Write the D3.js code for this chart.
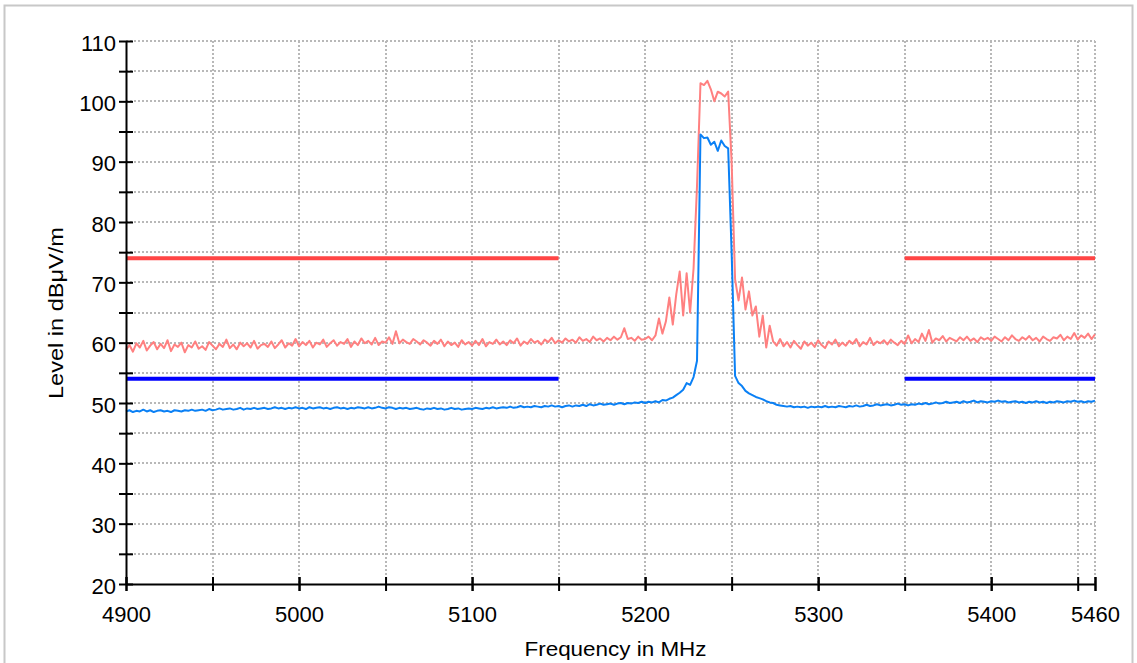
<!DOCTYPE html>
<html>
<head>
<meta charset="utf-8">
<script src="https://cdn.jsdelivr.net/npm/d3@7"></script>
<style>
  html, body { margin: 0; padding: 0; background: #fff; }
  svg { display: block; }
  text { font-family: "Liberation Sans", Arial, sans-serif; fill: #000; }
</style>
</head>
<body>
<svg id="chart" width="1137" height="663"></svg>
<script>
// ---- data ----
const sweepStart = 4900;   // MHz
const sweepStep = 2;       // MHz between samples

// Peak detector trace (pink), dBµV/m, 4900..5460 MHz
const peakValues = [
  58.8, 59.6, 58.5, 59.9, 59.2, 60.3, 58.7, 59.5, 60.1, 58.9,
  59.8, 59.1, 60.4, 58.6, 59.7, 59.3, 60.0, 58.4, 59.6, 59.2,
  60.2, 59.0, 59.4, 58.8, 60.1, 59.5, 58.9, 59.8, 59.3, 60.5,
  59.1, 59.7, 58.9, 60.0, 59.4, 59.9, 59.2, 60.3, 59.0, 59.6,
  59.8, 59.3, 60.2, 59.1, 59.7, 60.4, 59.2, 59.9, 59.5, 60.6,
  59.4, 60.1, 59.6, 60.3, 59.2, 60.0, 59.7, 60.5, 59.3, 59.9,
  60.4, 59.5, 60.1, 59.8, 60.6, 59.3, 60.2, 59.6, 60.7, 59.9,
  60.3, 59.7, 60.8, 59.6, 60.2, 60.0, 60.9, 59.8, 61.9, 59.9,
  60.5, 60.1, 59.8, 60.6, 60.2, 59.7, 60.4, 60.0, 59.5, 60.3,
  59.8, 60.5, 59.4, 60.2, 59.6, 60.0, 59.3, 60.4, 59.7, 60.1,
  59.5, 60.3, 59.6, 60.6, 59.4, 60.1, 59.8, 60.5, 59.7, 60.2,
  59.6, 60.4, 59.9, 60.7, 59.5, 60.2, 59.8, 60.6, 60.0, 60.3,
  59.7, 60.5, 60.1, 60.8, 59.9, 60.4, 60.0, 60.7, 60.2, 60.5,
  60.0, 60.9, 60.3, 60.6, 60.1, 61.0, 60.4, 60.7, 60.2, 60.8,
  60.4, 61.0, 60.5, 60.9, 62.4, 60.6, 60.8, 60.3, 61.0, 60.5,
  60.6, 61.0, 60.4, 61.2, 64.0, 61.5, 63.5, 67.5, 63.0, 68.0,
  71.8, 64.5, 71.5, 65.0, 72.3, 86.0, 103.0, 102.7, 103.4, 102.0,
  100.0, 101.6, 101.3, 100.8, 101.6, 90.0, 70.5, 67.0, 70.8, 65.5,
  68.5, 64.5, 66.0, 61.0, 64.5, 59.2, 62.8, 60.2, 59.5, 60.6,
  59.4, 60.1, 59.2, 60.3, 59.6, 59.0, 60.2, 59.5, 60.0, 59.3,
  60.4, 59.6, 59.1, 60.2, 59.7, 60.5, 59.4, 60.0, 59.5, 60.3,
  59.8, 60.6, 59.4, 60.1, 59.7, 60.8, 59.6, 60.2, 59.9, 60.4,
  59.7, 60.5, 60.0, 59.6, 60.3, 59.8, 61.2, 59.9, 60.6, 60.1,
  61.5, 60.3, 62.1, 60.0, 60.7, 60.4, 61.1, 60.2, 60.8, 60.5,
  60.2, 60.9, 60.4, 61.0, 60.3, 60.7, 60.1, 60.9, 60.5, 60.8,
  60.3, 61.0, 60.6, 60.2, 60.9, 60.4, 61.2, 60.6, 60.3, 60.9,
  60.5, 61.1, 60.4, 60.8, 60.2, 61.0, 60.6, 60.3, 60.9, 60.7,
  61.3, 60.4, 61.0, 60.6, 61.6, 60.5, 61.2, 60.8, 61.5, 60.6,
  61.4
];

// Average detector trace (blue), dBµV/m, 4900..5460 MHz
const avgValues = [
  48.6, 48.8, 48.5, 48.7, 48.6, 48.9, 48.6, 48.8, 48.5, 48.7,
  48.8, 48.6, 48.7, 48.5, 48.8, 48.7, 48.6, 48.8, 48.7, 48.9,
  48.7, 48.8, 48.9, 48.7, 49.0, 48.8, 48.9, 49.1, 48.9, 49.0,
  49.1, 48.9, 49.0, 49.2, 48.9, 49.1, 49.0, 49.2, 49.0, 49.1,
  49.2, 49.0, 49.1, 49.3, 49.1, 49.2, 49.0, 49.2, 49.1, 49.3,
  49.1, 49.2, 49.0, 49.3, 49.1, 49.2, 49.3, 49.1, 49.2, 49.0,
  49.2, 49.3, 49.1, 49.2, 49.0, 49.2, 49.1, 49.3, 49.2, 49.1,
  49.3, 49.1, 49.2, 49.4, 49.2, 49.1, 49.3, 49.2, 49.0, 49.2,
  49.1, 49.2, 49.0, 49.1, 49.2, 49.0, 48.9, 49.1, 49.0, 49.2,
  49.0, 49.1, 48.9, 49.0, 49.2, 49.0, 49.1, 48.9, 49.0, 49.1,
  49.0, 49.2, 49.1, 49.0, 49.2, 49.1, 49.3, 49.1, 49.2, 49.3,
  49.2, 49.4, 49.2, 49.3, 49.5, 49.3, 49.4, 49.3, 49.5, 49.4,
  49.3, 49.5, 49.4, 49.6, 49.4, 49.5, 49.3, 49.5, 49.6, 49.4,
  49.6, 49.5, 49.7, 49.5, 49.8, 49.6, 49.7, 49.9, 49.7, 49.8,
  49.9, 49.7, 49.9, 50.0, 49.8, 50.0, 49.9, 50.1, 50.0, 50.2,
  50.0, 50.2, 50.1, 50.3, 50.1, 50.5, 50.4, 50.7, 50.9, 51.3,
  51.7, 52.2, 53.3, 53.0, 54.3, 57.0, 94.5, 93.9, 94.0, 92.8,
  93.3, 91.8, 93.5, 92.6, 92.2, 75.0, 54.5, 53.3, 52.8, 52.0,
  51.6, 51.3, 51.0, 50.8, 50.6, 50.3, 50.1, 50.0, 49.7, 49.6,
  49.5, 49.4, 49.5, 49.3, 49.4, 49.3, 49.4, 49.2, 49.4, 49.3,
  49.4, 49.3, 49.5, 49.3, 49.4, 49.3, 49.5, 49.4, 49.3, 49.5,
  49.4, 49.6, 49.4, 49.5, 49.7, 49.5, 49.6, 49.8, 49.6, 49.7,
  49.8, 49.6, 49.7, 49.9, 49.7, 49.8, 49.6, 49.8, 49.7, 49.9,
  49.8, 50.0, 49.8, 49.9, 50.1, 49.9, 50.0, 50.2, 50.0, 50.1,
  50.2, 50.0, 50.3, 50.1, 50.2, 50.4, 50.1, 50.3, 50.2, 50.1,
  50.3, 50.2, 50.4, 50.2, 50.3, 50.1, 50.2, 50.3, 50.1, 50.2,
  50.0, 50.2, 50.1, 50.3, 50.1, 50.2, 50.0, 50.2, 50.1, 50.3,
  50.2, 50.1, 50.3, 50.2, 50.4, 50.2, 50.3, 50.1, 50.3, 50.2,
  50.4
];

// Limit lines
const limitBands = [[4900, 5150], [5350, 5460]];   // MHz ranges where limits apply
const peakLimit = 74;   // dBµV/m
const avgLimit = 54;    // dBµV/m

// Axes
const xDomain = [4900, 5460];
const yDomain = [20, 110];
const xTickLabels = [4900, 5000, 5100, 5200, 5300, 5400, 5460];
const xTickMarks = [4900, 4950, 5000, 5050, 5100, 5150, 5200, 5250, 5300, 5350, 5400, 5450, 5460];
const yTickLabels = [20, 30, 40, 50, 60, 70, 80, 90, 100, 110];
const yTickMinor = [25, 35, 45, 55, 65, 75, 85, 95, 105];
const xGrid = [4950, 5000, 5050, 5100, 5150, 5200, 5250, 5300, 5350, 5400, 5450, 5460];
const yGrid = [25, 30, 35, 40, 45, 50, 55, 60, 65, 70, 75, 80, 85, 90, 95, 100, 105, 110];

const xTitle = "Frequency in MHz";
const yTitle = "Level in dBμV/m";

// ---- drawing ----
(function draw() {
  const svg = d3.select("#chart");
  const pl = 126, pr = 1095, pt = 41, pb = 584;

  const x = d3.scaleLinear().domain(xDomain).range([pl, pr]);
  const y = d3.scaleLinear().domain(yDomain).range([pb, pt]);

  const freqs = peakValues.map((_, i) => sweepStart + sweepStep * i);

  // frame
  svg.append("rect")
    .attr("x", 4.5).attr("y", 5.5)
    .attr("width", 1128).attr("height", 720)
    .attr("fill", "none").attr("stroke", "#c8c8c8").attr("stroke-width", 2);

  // grid
  const grid = svg.append("g").attr("stroke", "#b8b8b8").attr("stroke-width", 1.5)
    .attr("stroke-dasharray", "2,2").attr("shape-rendering", "crispEdges");
  grid.selectAll("line.v").data(xGrid).join("line").attr("class", "v")
    .attr("x1", d => Math.round(x(d))).attr("x2", d => Math.round(x(d)))
    .attr("y1", pt).attr("y2", pb);
  grid.selectAll("line.h").data(yGrid).join("line").attr("class", "h")
    .attr("x1", pl).attr("x2", pr)
    .attr("y1", d => Math.round(y(d))).attr("y2", d => Math.round(y(d)));

  // traces
  const line = d3.line().x(d => x(d[0])).y(d => y(d[1]));
  svg.append("path")
    .datum(freqs.map((f, i) => [f, peakValues[i]]))
    .attr("d", line).attr("fill", "none")
    .attr("stroke", "#ff8080").attr("stroke-width", 2).attr("stroke-linejoin", "round");
  svg.append("path")
    .datum(freqs.map((f, i) => [f, avgValues[i]]))
    .attr("d", line).attr("fill", "none")
    .attr("stroke", "#0a80f5").attr("stroke-width", 2).attr("stroke-linejoin", "round");

  // limit lines
  svg.selectAll("line.pl").data(limitBands).join("line").attr("class", "pl")
    .attr("x1", d => x(d[0])).attr("x2", d => x(d[1]))
    .attr("y1", y(peakLimit)).attr("y2", y(peakLimit))
    .attr("stroke", "#ff4545").attr("stroke-width", 4);
  svg.selectAll("line.al").data(limitBands).join("line").attr("class", "al")
    .attr("x1", d => x(d[0])).attr("x2", d => x(d[1]))
    .attr("y1", y(avgLimit)).attr("y2", y(avgLimit))
    .attr("stroke", "#0000ff").attr("stroke-width", 4);

  // axes
  const fontSize = 22;
  const fmt = d3.format("d");
  const yAxis = svg.append("g").attr("transform", `translate(${pl},0)`)
    .call(d3.axisLeft(y).tickValues(yTickLabels).tickFormat(fmt).tickSize(7).tickSizeOuter(0).tickPadding(3));
  const yMinor = svg.append("g").attr("transform", `translate(${pl},0)`)
    .call(d3.axisLeft(y).tickValues(yTickMinor).tickSize(7).tickSizeOuter(0).tickFormat(""));
  yMinor.select(".domain").remove();
  [yAxis, yMinor].forEach(g => {
    g.selectAll(".tick line").attr("x1", 7).attr("stroke", "#000").attr("stroke-width", 2);
  });
  yAxis.selectAll(".tick text").attr("font-size", fontSize).attr("dy", "0.42em")
    .attr("font-family", "'Liberation Sans', Arial, sans-serif");

  const xAxis = svg.append("g").attr("transform", `translate(0,${pb})`)
    .call(d3.axisBottom(x).tickValues(xTickLabels).tickFormat(fmt).tickSize(7).tickSizeOuter(0).tickPadding(15));
  const xMarks = svg.append("g").attr("transform", `translate(0,${pb})`)
    .call(d3.axisBottom(x).tickValues(xTickMarks).tickSize(7).tickSizeOuter(0).tickFormat(""));
  xMarks.select(".domain").remove();
  [xAxis, xMarks].forEach(g => {
    g.selectAll(".tick line").attr("y1", -7).attr("stroke", "#000").attr("stroke-width", 2);
  });
  xAxis.selectAll(".tick text").attr("font-size", fontSize)
    .attr("font-family", "'Liberation Sans', Arial, sans-serif");
  [xAxis, yAxis].forEach(g => g.select(".domain").attr("stroke", "#000").attr("stroke-width", 2));

  // titles
  svg.append("text")
    .attr("x", (pl + pr) / 2 + 5).attr("y", 656)
    .attr("text-anchor", "middle").attr("font-size", 21)
    .attr("textLength", 182).attr("lengthAdjust", "spacingAndGlyphs")
    .text(xTitle);
  svg.append("text")
    .attr("transform", "translate(63,313) rotate(-90)")
    .attr("text-anchor", "middle").attr("font-size", 21)
    .attr("textLength", 172).attr("lengthAdjust", "spacingAndGlyphs")
    .text(yTitle);
})();
</script>
</body>
</html>
